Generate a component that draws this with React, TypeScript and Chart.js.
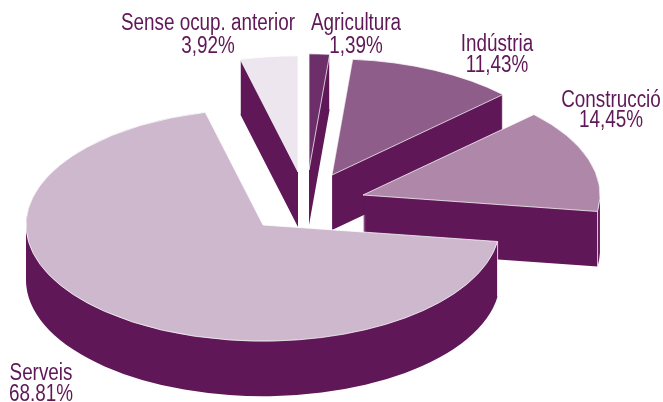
import React, { useEffect, useRef } from "react";
import { Chart, registerables } from "chart.js";

Chart.register(...registerables);

const categories = ["Agricultura", "Indústria", "Construcció", "Serveis", "Sense ocup. anterior"];
const values = [1.39, 11.43, 14.45, 68.81, 3.92];
const valueLabels = ["1,39%", "11,43%", "14,45%", "68.81%", "3,92%"];
const sliceColors = ["#6c2f69", "#8f5d89", "#ae87a9", "#cdb8cd", "#ede6ee"];

const WALL = "#5f1757";
const TEXT = "#5f1757";
const SQUASH = 0.49;
const DEPTH = 55;
const CONDENSE = 0.82;
// screen position of each slice's apex once pulled out of the pie
const apexX = [309, 332, 363, 263, 298];
const apexY = [170, 175, 195, 225, 172];
const drawOrder = [4, 0, 1, 2, 3];
// label anchor: centre x, first baseline, second baseline
const labelX = [356, 497, 611, 41, 208];
const labelY1 = [30, 51, 107, 380, 30];
const labelY2 = [53, 72, 127, 401, 53];

const pie3d = {
  id: "pie3d",
  beforeDatasetsDraw(chart: any) {
    const ctx = chart.ctx as CanvasRenderingContext2D;
    const arcs = chart.getDatasetMeta(0).data as any[];
    for (const i of drawOrder) {
      const arc = arcs[i];
      const { x, y, startAngle, endAngle, outerRadius } = arc.getProps(
        ["x", "y", "startAngle", "endAngle", "outerRadius"],
        true
      );
      const place = (down: number) => {
        ctx.setTransform(1, 0, 0, SQUASH, apexX[i] - x, apexY[i] + down - y * SQUASH);
      };
      ctx.save();
      ctx.fillStyle = WALL;
      ctx.beginPath();
      for (let d = DEPTH; d >= 1; d--) {
        place(d);
        ctx.moveTo(x, y);
        ctx.arc(x, y, outerRadius, startAngle, endAngle);
        ctx.closePath();
      }
      ctx.setTransform(1, 0, 0, 1, 0, 0);
      ctx.fill();
      ctx.strokeStyle = "#ffffff";
      ctx.lineWidth = 0.8;
      for (const a of [startAngle, endAngle]) {
        const px = apexX[i] + Math.cos(a) * outerRadius;
        const py = apexY[i] + Math.sin(a) * outerRadius * SQUASH;
        ctx.beginPath();
        ctx.moveTo(px, py);
        ctx.lineTo(px, py + DEPTH);
        ctx.stroke();
      }
      place(0);
      arc.draw(ctx);
      ctx.restore();
    }
    ctx.save();
    ctx.fillStyle = TEXT;
    ctx.textAlign = "center";
    ctx.textBaseline = "alphabetic";
    ctx.font = '23px "Liberation Sans"';
    categories.forEach((c, i) => {
      ctx.setTransform(CONDENSE, 0, 0, 1, labelX[i], 0);
      ctx.fillText(c, 0, labelY1[i]);
      ctx.fillText(valueLabels[i], 0, labelY2[i]);
    });
    ctx.restore();
    return false;
  },
};

export default function App() {
  const ref = useRef<HTMLCanvasElement>(null);
  useEffect(() => {
    const chart = new Chart(ref.current as HTMLCanvasElement, {
      type: "pie",
      data: {
        labels: categories,
        datasets: [
          {
            data: values,
            backgroundColor: sliceColors,
            borderColor: "#ffffff",
            borderWidth: 1,
          },
        ],
      },
      options: {
        responsive: false,
        animation: false,
        radius: 237,
        rotation: 0,
        layout: { padding: 0 },
        plugins: { legend: { display: false }, tooltip: { enabled: false } },
      } as any,
      plugins: [pie3d as any],
    });
    return () => chart.destroy();
  }, []);
  return (
    <div style={{ position: "absolute", left: 0, top: 0, width: 663, height: 402, background: "#fff" }}>
      <canvas ref={ref} width={663} height={402} style={{ display: "block" }} />
    </div>
  );
}
